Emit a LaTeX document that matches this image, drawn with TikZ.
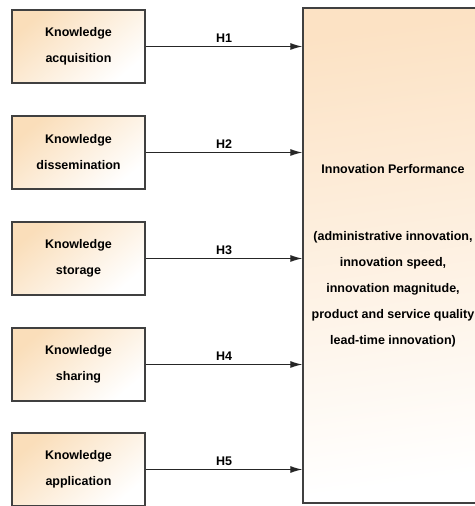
\documentclass[tikz,border=0pt]{standalone}
\usepackage{fontspec}
\setmainfont{Liberation Sans}
\usetikzlibrary{arrows.meta}
\definecolor{boxline}{RGB}{64,64,64}
\definecolor{peach}{RGB}{250,222,186}
\definecolor{peachtop}{RGB}{252,226,196}
\definecolor{peachbot}{RGB}{254,250,245}
\begin{document}
\begin{tikzpicture}[x=1pt,y=1pt,
  kbox/.style={draw=boxline, line width=1.3pt, minimum width=133pt, minimum height=73pt,
    inner sep=0pt, top color=peach, bottom color=white, shading angle=40,
    align=center, font=\bfseries\fontsize{12.5}{26}\selectfont},
  perf/.style={draw=boxline, line width=1.3pt, minimum width=180pt, minimum height=495pt,
    inner sep=0pt, top color=peachtop, bottom color=white, shading angle=8,
    align=center, font=\bfseries\fontsize{12.5}{26}\selectfont},
  hyp/.style={-{Latex[length=12pt,width=7pt]}, line width=1.2pt, draw=black!85},
  hlab/.style={font=\bfseries\fontsize{12.5}{14}\selectfont, above, inner sep=3pt}]
\useasboundingbox (0,0) rectangle (474,506);
\node[kbox] (k1) at (78.5,459.5) {Knowledge\\acquisition};
\node[kbox] (k2) at (78.5,353.5) {Knowledge\\dissemination};
\node[kbox] (k3) at (78.5,247.5) {Knowledge\\storage};
\node[kbox] (k4) at (78.5,141.5) {Knowledge\\sharing};
\node[kbox] (k5) at (78.5,36.5) {Knowledge\\application};
\node[perf] (ip) at (393,250.5) {Innovation Performance\\[41pt]
(administrative innovation,\\innovation speed,\\innovation magnitude,\\product and service quality\\lead-time innovation)};
\draw[hyp] (k1.east) -- node[hlab]{H1} (ip.west |- k1.east);
\draw[hyp] (k2.east) -- node[hlab]{H2} (ip.west |- k2.east);
\draw[hyp] (k3.east) -- node[hlab]{H3} (ip.west |- k3.east);
\draw[hyp] (k4.east) -- node[hlab]{H4} (ip.west |- k4.east);
\draw[hyp] (k5.east) -- node[hlab]{H5} (ip.west |- k5.east);
\end{tikzpicture}
\end{document}
